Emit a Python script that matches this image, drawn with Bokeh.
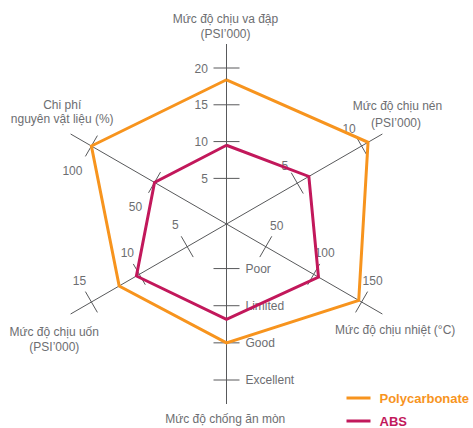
import math
from bokeh.plotting import figure
from bokeh.models import Range1d
from bokeh.core.properties import value
from bokeh.embed import file_html
from bokeh.resources import INLINE

# ---------------- data ----------------
axis_titles = [
    ["Mức độ chịu va đập", "(PSI’000)"],
    ["Mức độ chịu nén", "(PSI’000)"],
    ["Mức độ chịu nhiệt (°C)"],
    ["Mức độ chống ăn mòn"],
    ["Mức độ chịu uốn", "(PSI’000)"],
    ["Chi phí", "nguyên vật liệu (%)"],
]
series_names = ["Polycarbonate", "ABS"]
polycarbonate = [18.4, 10.5, 147, 3.0, 12.1, 100]
abs_values = [9.5, 5.9, 105, 2.37, 10.3, 50]

tick_values = [
    [5, 10, 15, 20],
    [5, 10],
    [50, 100, 150],
    [1, 2, 3, 4],
    [5, 10, 15],
    [50, 100],
]
tick_labels = [
    ["5", "10", "15", "20"],
    ["5", "10"],
    ["50", "100", "150"],
    ["Poor", "Limited", "Good", "Excellent"],
    ["5", "10", "15"],
    ["50", "100"],
]
# value at centre / value at outer tick ring, per axis
axis_domains = [(-1.2, 20), (-0.5, 10), (9, 150), (-0.2, 4), (0.9, 15), (-7, 100)]

# ---------------- style / geometry ----------------
angles_deg = [90, 30, -30, -90, -150, 150]
R_TICK = 156.0
R_AXIS = 180.0
ORANGE = "#F7941E"
CRIMSON = "#C2185B"
GREY_TXT = "#6D6E71"
GREY_LINE = "#58595B"
FONT = "Liberation Sans"

W, H = 473, 428
CX, CY = 226, 223.5  # centre in figure pixels from top-left

def scale(i, v):
    lo, hi = axis_domains[i]
    return (v - lo) / (hi - lo) * R_TICK

def pt(i, r):
    a = math.radians(angles_deg[i])
    return r * math.cos(a), r * math.sin(a)

p = figure(width=W, height=H, output_backend="svg", toolbar_location=None,
           x_range=Range1d(-CX, W - CX), y_range=Range1d(-(H - CY), CY),
           x_axis_location=None, y_axis_location=None, min_border=0,
           outline_line_color=None, background_fill_color="white")
p.grid.visible = False

# axes lines
ax_x0, ax_y0, ax_x1, ax_y1 = [], [], [], []
for i in range(6):
    x, y = pt(i, R_AXIS)
    ax_x0.append(0); ax_y0.append(0); ax_x1.append(x); ax_y1.append(y)
p.segment(ax_x0, ax_y0, ax_x1, ax_y1, line_color=GREY_LINE, line_width=1)

# ticks and tick labels
label_offsets = {1: (-12.5, 18), 2: (11, 21.5), 4: (-12, 22), 5: (-19, -24)}
tx0, ty0, tx1, ty1 = [], [], [], []
for i in range(6):
    a = math.radians(angles_deg[i])
    px, py = -math.sin(a), math.cos(a)
    half = 13 if i in (0, 3) else 12
    for v, lab in zip(tick_values[i], tick_labels[i]):
        r = scale(i, v)
        x, y = pt(i, r)
        tx0.append(x - px * half); ty0.append(y - py * half)
        tx1.append(x + px * half); ty1.append(y + py * half)
        if i == 0:
            p.text([x - 18.7], [y], text=[lab], text_align="right", text_baseline="middle",
                   text_font=value(FONT), text_font_size="12px", text_color=GREY_TXT)
        elif i == 3:
            p.text([x + 19], [y], text=[lab], text_align="left", text_baseline="middle",
                   text_font=value(FONT), text_font_size="12px", text_color=GREY_TXT)
        else:
            dx, dy = label_offsets[i]
            p.text([x + dx], [y + dy], text=[lab], text_align="center", text_baseline="middle",
                   text_font=value(FONT), text_font_size="12px", text_color=GREY_TXT)
p.segment(tx0, ty0, tx1, ty1, line_color=GREY_LINE, line_width=1)

# series polygons
for vals, col in ((polycarbonate, ORANGE), (abs_values, CRIMSON)):
    xs, ys = [], []
    for i, v in enumerate(vals):
        x, y = pt(i, scale(i, v))
        xs.append(x); ys.append(y)
    xs.append(xs[0]); ys.append(ys[0])
    p.line(xs, ys, line_color=col, line_width=3, line_join="miter")

# axis titles (picture-pixel centres of each line)
title_pos = [
    [(225, 18.3), (225, 33.3)],
    [(397, 105.7), (395.5, 122.3)],
    [(394.7, 329)],
    [(224.7, 418.3)],
    [(53.7, 331), (53.8, 346)],
    [(61.7, 104), (61.7, 118.3)],
]
for lines, poss in zip(axis_titles, title_pos):
    for txt, (ix, iy) in zip(lines, poss):
        p.text([ix - CX], [CY - iy], text=[txt], text_align="center",
               text_baseline="middle", text_font=value(FONT), text_font_size="12px",
               text_color=GREY_TXT)

# legend
for name, col, iy in ((series_names[0], ORANGE, 397.5), (series_names[1], CRIMSON, 420.5)):
    yy = CY - iy
    p.line([346 - CX, 370 - CX], [yy, yy], line_color=col, line_width=3)
    p.text([379 - CX], [yy], text=[name], text_align="left", text_baseline="middle",
           text_font=value(FONT), text_font_size="13px", text_font_style="bold",
           text_color=col)

open("out.html", "w").write(file_html(p, INLINE))
